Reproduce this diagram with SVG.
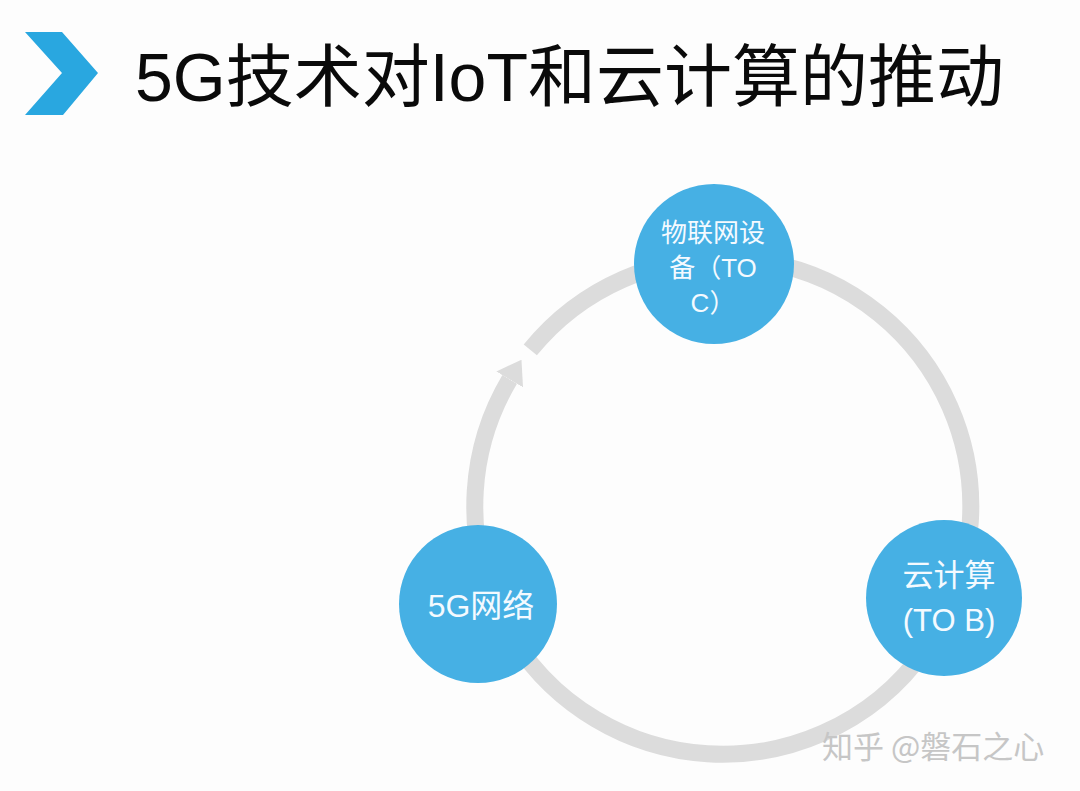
<svg xmlns="http://www.w3.org/2000/svg" width="1080" height="791" viewBox="0 0 1080 791">
  <style>
    .node { fill: #46b0e4; }
    .ntext { fill: #f4faff; font-family: "Liberation Sans", "Noto Sans CJK SC", sans-serif; text-anchor: middle; }
    .ring { fill: none; stroke: #dcdcdc; stroke-width: 17; }
    .title { fill: #0a0a0a; font-family: "Liberation Sans", "Noto Sans CJK SC", sans-serif; font-size: 68px; }
    .wm { fill: #c6c6c6; font-family: "Noto Sans CJK SC", "Liberation Sans", sans-serif; font-size: 31px; }
  </style>
  <defs>
    <marker id="arrow" viewBox="0 0 23 31" refX="0" refY="15.5" markerWidth="23" markerHeight="31" markerUnits="userSpaceOnUse" orient="auto">
      <path d="M0,0 L23,15.5 L0,31 z" fill="#dcdcdc"/>
    </marker>
  </defs>
  <rect x="0" y="0" width="1080" height="791" fill="#fdfdfd"/>

  <g id="header">
    <polygon points="25,32 62,32 98,73 63,115 25,115 62,73" fill="#29a7e0"/>
    <text class="title" x="135" y="101">5G技术对IoT和云计算的推动</text>
  </g>

  <g id="connectors">
    <path class="ring" d="M530.3,349.9 A248,248 0 1 1 509.7,379.4" marker-end="url(#arrow)"/>
  </g>

  <g id="node-iot">
    <circle class="node" cx="714" cy="264" r="80"/>
    <text class="ntext" font-size="26" x="713" y="242">物联网设</text>
    <text class="ntext" font-size="26" x="713" y="277">备（TO</text>
    <text class="ntext" font-size="26" x="713" y="312">C）</text>
  </g>

  <g id="node-5g">
    <circle class="node" cx="478" cy="604" r="79"/>
    <text class="ntext" font-size="32" x="481" y="617">5G网络</text>
  </g>

  <g id="node-cloud">
    <circle class="node" cx="944" cy="598" r="78"/>
    <text class="ntext" font-size="31" x="949" y="586">云计算</text>
    <text class="ntext" font-size="31" x="949" y="631">(TO B)</text>
  </g>

  <g id="watermark">
    <text class="wm" x="822" y="758">知乎 @磐石之心</text>
  </g>
</svg>
